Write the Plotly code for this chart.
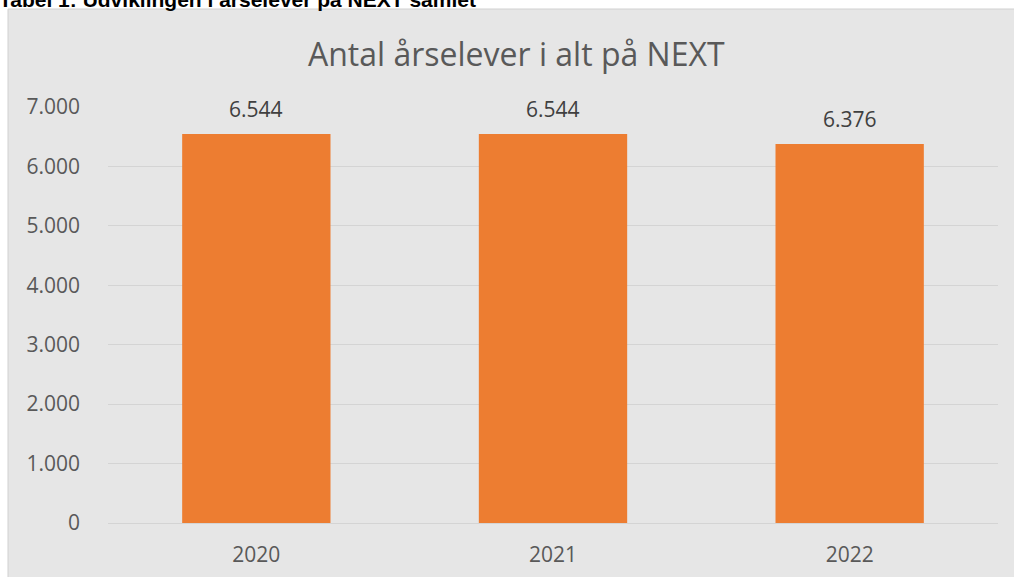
import plotly.graph_objects as go

# data
years = ["2020", "2021", "2022"]
aarselever = [6544, 6544, 6376]

caption = "Tabel 1: Udviklingen i årselever på NEXT samlet"
chart_title = "Antal årselever i alt på NEXT"

W, H = 1014, 577
left, right, top, bottom = 108, 998, 107, 523

def px_x(px):
    return (px - left) / (right - left)

def px_y(py):
    return (bottom - py) / (bottom - top)

fig = go.Figure()
fig.add_trace(go.Bar(
    x=years,
    y=aarselever,
    marker=dict(color="#ED7D31", line=dict(width=0)),
    hoverinfo="x+y",
))

# data labels (x by category index, so "2020" is not read as a number)
annotations = []
for i, v in enumerate(aarselever):
    annotations.append(dict(
        x=i, y=v, xref="x", yref="y",
        text=f"{v:,}".replace(",", "."),
        showarrow=False, yanchor="bottom", yshift=9,
        font=dict(family="Open Sans", size=21, color="#404040"),
    ))

# caption above the chart box (cut off at the top edge)
annotations.append(dict(
    x=px_x(-3), y=px_y(-1), xref="paper", yref="paper",
    text=f"<b>{caption}</b>", showarrow=False,
    xanchor="left", yanchor="middle",
    font=dict(family="Liberation Sans", size=21, color="#000000"),
))

# chart title
annotations.append(dict(
    x=px_x(516), y=px_y(53), xref="paper", yref="paper",
    text=chart_title, showarrow=False,
    xanchor="center", yanchor="middle",
    font=dict(family="Open Sans", size=32, color="#595959"),
))

fig.update_layout(
    width=W, height=H,
    margin=dict(l=left, r=W - right, t=top, b=H - bottom, pad=0),
    paper_bgcolor="white",
    plot_bgcolor="rgba(0,0,0,0)",
    separators=",.",
    showlegend=False,
    bargap=0.5,
    xaxis=dict(
        type="category", range=[-0.5, len(years) - 0.5], automargin=False,
        showgrid=False, showline=False, zeroline=False,
        ticks="", ticklabelstandoff=17,
        tickfont=dict(family="Open Sans", size=21, color="#595959"),
    ),
    yaxis=dict(
        range=[0, 7000], dtick=1000, tickformat=",", automargin=False,
        showgrid=True, gridcolor="#D4D4D4", gridwidth=1,
        zeroline=True, zerolinecolor="#D4D4D4", zerolinewidth=1,
        showline=False, ticks="", ticklabelstandoff=27,
        tickfont=dict(family="Open Sans", size=21, color="#595959"),
    ),
    annotations=annotations,
    shapes=[dict(
        type="rect", xref="paper", yref="paper", layer="below",
        x0=px_x(8), x1=px_x(W + 5), y0=px_y(H + 5), y1=px_y(9),
        fillcolor="#E6E6E6", line=dict(color="#D0D0D0", width=1),
    )],
)

fig.write_html("out.html", config={"displayModeBar": False},
               post_script="document.body.style.margin='0';")
